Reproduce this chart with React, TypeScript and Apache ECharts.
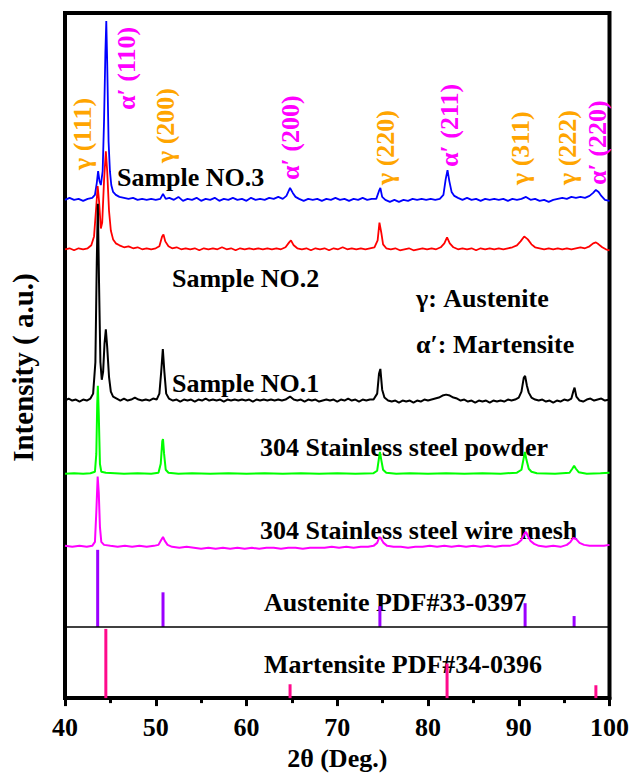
import React, { useEffect, useRef } from 'react';
import * as echarts from 'echarts';

// 2θ range
const X_MIN = 40;
const X_MAX = 100;
const X_STEP = 10;
// intensity axis (a.u.)
const Y_MIN = 0;
const Y_MAX = 693;

// vertical offsets of stacked patterns (a.u.)
const OFF_NO3 = 503;
const OFF_NO2 = 453;
const OFF_NO1 = 300;
const OFF_POWDER = 227;
const OFF_MESH = 153;
const OFF_AUST = 72;
const OFF_MART = 0;

// [2θ, intensity above own baseline]
const sampleNo3: number[][] = [
  [40, 1], [40.5, 3], [41, 1], [41.5, 2], [42, 0], [42.5, 2], [43, 3], [43.3, 6], [43.5, 18], [43.65, 30], [43.8, 20], [43.95, 16],
  [44.15, 30], [44.3, 80], [44.45, 150], [44.55, 182], [44.65, 140], [44.8, 60], [44.95, 30], [45.1, 16], [45.3, 9], [45.6, 6],
  [46, 4], [46.5, 3], [47, 2], [47.5, 3], [48, 1], [48.5, 2], [49, 1], [49.5, 2], [50, 1], [50.5, 2], [50.8, 7], [51.1, 2],
  [51.5, 3], [52, 1], [52.5, 4], [53, 0], [53.5, 2], [54, 1], [54.5, 3], [55, 0], [55.5, 2], [56, 1], [56.5, 3], [57, 0],
  [57.5, 2], [58, 1], [58.5, 3], [59, 1], [59.5, 2], [60, 0], [60.5, 3], [61, 1], [61.5, 2], [62, 1], [62.5, 3], [63, 2],
  [63.5, 4], [64, 2], [64.4, 5], [64.8, 13], [65.1, 8], [65.4, 4], [65.8, 2], [66.3, 0], [66.8, 2], [67.3, 1], [67.8, 2],
  [68.3, 0], [68.8, 2], [69.3, 1], [69.8, 3], [70.3, 1], [70.8, 2], [71.3, 0], [71.8, 2], [72.3, 1], [72.8, 3], [73.3, 1],
  [73.8, 2], [74.3, 2], [74.6, 10], [74.75, 13], [74.95, 4], [75.3, 1], [75.8, -1], [76.3, 1], [76.8, -1], [77.3, 1], [77.8, 0],
  [78.3, 2], [78.8, 1], [79.3, 2], [79.8, 1], [80.3, 2], [80.8, 1], [81.3, 2], [81.7, 6], [81.95, 22], [82.15, 31], [82.35, 20],
  [82.6, 9], [82.9, 5], [83.3, 3], [83.8, 1], [84.3, 3], [84.8, 1], [85.3, 2], [85.8, 0], [86.3, 2], [86.8, 1], [87.3, 2],
  [87.8, 1], [88.3, 2], [88.8, 0], [89.3, 2], [89.8, 1], [90.3, 2], [90.8, 4], [91.3, 1], [91.8, 2], [92.3, 0], [92.8, 1],
  [93.3, -1], [93.8, 1], [94.3, 2], [94.8, 3], [95.3, 2], [95.8, 4], [96.3, 3], [96.8, 4], [97.3, 3], [97.8, 5], [98.2, 8],
  [98.5, 11], [98.8, 9], [99.1, 5], [99.5, 1], [100, 0],
];

const sampleNo2: number[][] = [
  [40, 1], [40.5, 2], [41, 0], [41.5, 2], [42, 1], [42.5, 2], [42.9, 5], [43.2, 14], [43.45, 45], [43.6, 65], [43.75, 50],
  [43.95, 22], [44.1, 28], [44.3, 70], [44.5, 100], [44.65, 80], [44.85, 40], [45.05, 20], [45.3, 11], [45.6, 7], [46, 5],
  [46.5, 3], [47, 4], [47.5, 2], [48, 3], [48.5, 1], [49, 2], [49.5, 1], [50, 2], [50.4, 4], [50.7, 14], [50.85, 16], [51.05, 9],
  [51.4, 4], [51.8, 2], [52.3, 3], [52.8, 1], [53.3, 2], [53.8, 1], [54.3, 2], [54.8, 0], [55.3, 2], [55.8, 1], [56.3, 2],
  [56.8, 1], [57.3, 3], [57.8, 1], [58.3, 2], [58.8, 0], [59.3, 2], [59.8, 1], [60.3, 2], [60.8, 1], [61.3, 2], [61.8, 1],
  [62.3, 2], [62.8, 1], [63.3, 2], [63.8, 1], [64.3, 3], [64.7, 8], [64.9, 10], [65.2, 5], [65.6, 2], [66.1, 1], [66.6, 2],
  [67.1, 0], [67.6, 2], [68.1, 1], [68.6, 2], [69.1, 0], [69.6, 2], [70.1, 1], [70.6, 3], [71.1, 1], [71.6, 2], [72.1, 1],
  [72.6, 2], [73.1, 1], [73.6, 2], [74.1, 3], [74.45, 10], [74.65, 28], [74.85, 18], [75.05, 6], [75.4, 2], [75.9, 1], [76.4, 2],
  [76.9, 0], [77.4, 1], [77.9, 2], [78.4, 0], [78.9, 1], [79.4, 2], [79.9, 1], [80.4, 2], [80.9, 1], [81.4, 3], [81.8, 7],
  [82.1, 13], [82.4, 7], [82.8, 3], [83.3, 1], [83.8, 2], [84.3, 1], [84.8, 2], [85.3, 0], [85.8, 2], [86.3, 1], [86.8, 2],
  [87.3, 1], [87.8, 2], [88.3, 1], [88.8, 2], [89.3, 3], [89.8, 5], [90.2, 9], [90.6, 14], [91, 11], [91.4, 6], [91.8, 3],
  [92.3, 2], [92.8, 1], [93.3, 2], [93.8, 1], [94.3, 2], [94.8, 1], [95.3, 2], [95.8, 1], [96.3, 2], [96.8, 3], [97.3, 2],
  [97.8, 4], [98.2, 7], [98.5, 8], [98.8, 6], [99.2, 3], [99.6, 1], [100, 0],
];

const sampleNo1: number[][] = [
  [40, 1], [40.4, 3], [40.8, 1], [41.2, 2], [41.6, 0], [42, 2], [42.4, 1], [42.8, 3], [43.1, 8], [43.35, 40], [43.5, 140],
  [43.62, 200], [43.75, 120], [43.9, 40], [44.05, 22], [44.2, 30], [44.35, 58], [44.5, 73], [44.65, 55], [44.85, 25], [45.05, 10],
  [45.3, 5], [45.7, 3], [46.1, 1], [46.5, 3], [46.9, 1], [47.3, 2], [47.7, 4], [48.1, 2], [48.5, 1], [48.9, 2], [49.3, 1],
  [49.7, 3], [50.1, 2], [50.4, 8], [50.6, 30], [50.78, 53], [50.95, 30], [51.15, 8], [51.45, 3], [51.9, 1], [52.3, 2], [52.7, 0],
  [53.1, 2], [53.5, 1], [53.9, 2], [54.3, 0], [54.7, 2], [55.1, 1], [55.5, 3], [55.9, 1], [56.3, 2], [56.7, 1], [57.1, 2],
  [57.5, 0], [57.9, 2], [58.3, 1], [58.7, 2], [59.1, 1], [59.5, 2], [59.9, 1], [60.3, 2], [60.7, 0], [61.1, 2], [61.5, 1],
  [61.9, 2], [62.3, 1], [62.7, 2], [63.1, 1], [63.5, 2], [63.9, 1], [64.3, 2], [64.8, 5], [65.2, 2], [65.6, 1], [66, 2],
  [66.4, 0], [66.8, 2], [67.2, 1], [67.6, 2], [68, 0], [68.4, 1], [68.8, 2], [69.2, 1], [69.6, 2], [70, 0], [70.4, 2],
  [70.8, 1], [71.2, 3], [71.6, 1], [72, 2], [72.4, 0], [72.8, 2], [73.2, 1], [73.6, 2], [74, 2], [74.4, 8], [74.6, 28],
  [74.75, 33], [74.95, 12], [75.2, 4], [75.6, 1], [76, 0], [76.4, 1], [76.8, -1], [77.2, 1], [77.6, 0], [78, 1], [78.4, -1],
  [78.8, 1], [79.2, 0], [79.6, 2], [80, 1], [80.4, 2], [80.8, 3], [81.2, 4], [81.6, 6], [82, 7], [82.4, 6], [82.8, 4],
  [83.2, 3], [83.6, 1], [84, 2], [84.4, 0], [84.8, 1], [85.2, -1], [85.6, 1], [86, 0], [86.4, 1], [86.8, -1], [87.2, 1],
  [87.6, 0], [88, 1], [88.4, 0], [88.8, 2], [89.2, 1], [89.6, 2], [90, 4], [90.3, 10], [90.55, 24], [90.7, 26], [90.9, 16],
  [91.1, 9], [91.4, 4], [91.8, 2], [92.2, 1], [92.6, 2], [93, 0], [93.4, 1], [93.8, -1], [94.2, 1], [94.6, 0], [95, 2],
  [95.4, 1], [95.8, 3], [96, 10], [96.15, 14], [96.35, 5], [96.7, 1], [97.1, 0], [97.5, 2], [97.9, 3], [98.3, 1], [98.7, 2],
  [99.1, 3], [99.5, 1], [100, 2],
];

const steelPowder: number[][] = [
  [40, 0], [41, 0.5], [42, 0], [42.8, 0.5], [43.3, 2], [43.45, 20], [43.55, 70], [43.62, 89], [43.72, 60], [43.85, 10], [44, 2],
  [44.5, 1], [45.5, 0.5], [46.5, 0], [48, 0.5], [49.5, 0], [50.3, 1], [50.55, 10], [50.72, 33], [50.8, 35], [50.92, 20],
  [51.1, 4], [51.4, 1], [52.5, 0], [54, 0.5], [56, 0], [58, 0.5], [60, 0], [62, 0.5], [64, 0], [66, 0.5], [68, 0], [70, 0.5],
  [72, 0], [74, 0.5], [74.4, 3], [74.6, 16], [74.7, 22], [74.85, 14], [75.05, 4], [75.4, 1], [76.5, 0], [78, 0.5], [80, 0],
  [82, 0.5], [84, 0], [86, 0.5], [88, 0], [89.8, 1], [90.3, 4], [90.55, 16], [90.68, 22], [90.85, 14], [91.1, 5], [91.4, 2],
  [92, 0.5], [94, 0], [95.6, 1], [95.9, 5], [96.1, 8], [96.3, 5], [96.6, 1.5], [97.5, 0], [99, 0.5], [100, 1],
];

const steelMesh: number[][] = [
  [40, 1], [40.8, 0], [41.6, 1], [42.4, 0], [43, 1], [43.3, 5], [43.45, 35], [43.6, 71], [43.72, 55], [43.85, 20], [44, 5],
  [44.3, 2], [45, 1], [45.8, 0], [46.6, 1], [47.4, 0], [48.2, 1], [49, 0], [49.8, 1], [50.3, 2], [50.6, 7], [50.8, 10], [51, 6],
  [51.3, 2], [51.8, 0], [52.6, -1], [53.4, 0], [54.2, -1], [55, -2], [55.8, -1], [56.6, -2], [57.4, -1], [58.2, -2], [59, -1],
  [59.8, -2], [60.6, -1], [61.4, -2], [62.2, -1], [63, -1], [63.8, -2], [64.6, -1], [65.4, -1], [66.2, -2], [67, -1], [67.8, -1],
  [68.6, -1], [69.4, 0], [70.2, -1], [71, 0], [71.8, -1], [72.6, 0], [73.4, 0], [74, 1], [74.4, 4], [74.65, 10], [74.85, 8],
  [75.1, 4], [75.5, 1], [76.2, 0], [77, 0], [77.8, -1], [78.6, 0], [79.4, 0], [80.2, 1], [81, 0], [81.8, 1], [82.6, 0],
  [83.4, 1], [84.2, 0], [85, 1], [85.8, 0], [86.6, 1], [87.4, 0], [88.2, 1], [89, 1], [89.8, 3], [90.3, 7], [90.6, 13],
  [90.8, 15], [91, 11], [91.3, 6], [91.7, 3], [92.2, 1], [93, 0], [93.8, 1], [94.6, 0], [95.3, 2], [95.7, 5], [96, 9], [96.3, 8],
  [96.7, 4], [97.2, 2], [97.8, 1], [98.6, 1], [99.4, 1], [100, 2],
];

// standard cards
const austenitePos = [43.6, 50.8, 74.7, 90.7, 96.1];
const austeniteInt = [78, 35, 21, 24, 11];
const martensitePos = [44.5, 64.8, 82.1, 98.5];
const martensiteInt = [70, 14, 35, 13];

// peak annotations: [label, phase]
const peakLabels = ['γ (111)', 'α′ (110)', 'γ (200)', 'α′ (200)', 'γ (220)', 'α′ (211)', 'γ (311)', 'γ (222)', 'α′ (220)'];
const peakPhase = ['g', 'a', 'g', 'a', 'g', 'a', 'g', 'g', 'a'];

const FONT = '"Liberation Serif", "Times New Roman", serif';

export default function App() {
  const ref = useRef<HTMLDivElement>(null);
  useEffect(() => {
    document.body.style.margin = '0';
    const chart = echarts.init(ref.current!, null, { renderer: 'svg' });

    const shift = (arr: number[][], off: number) => arr.map((p) => [p[0], p[1] + off]);
    const lineSeries = (name: string, arr: number[][], off: number, color: string, width: number, extra: any = {}) => ({
      name,
      type: 'line',
      data: shift(arr, off),
      showSymbol: false,
      symbol: 'none',
      lineStyle: { color, width },
      silent: true,
      ...extra,
    });
    const stickSeries = (name: string, pos: number[], ints: number[], off: number, color: string) => ({
      name,
      type: 'custom',
      silent: true,
      data: pos.map((x, i) => [x, ints[i]]),
      renderItem: (_params: any, api: any) => {
        const x = api.value(0);
        const h = api.value(1);
        const p0 = api.coord([x, off]);
        const p1 = api.coord([x, off + h]);
        return {
          type: 'line',
          shape: { x1: p0[0], y1: p0[1], x2: p1[0], y2: p1[1] },
          style: { stroke: color, lineWidth: 3 },
        };
      },
    });

    const textStyle = (text: string, color = '#000') => ({
      text,
      fill: color,
      font: `bold 26px ${FONT}`,
      textAlign: 'left',
      textVerticalAlign: 'middle',
      verticalAlign: 'middle',
    });

    // annotation placements (pixels)
    const plain: [string, number, number][] = [
      ['Sample NO.3', 117, 177],
      ['Sample NO.2', 172, 278],
      ['Sample NO.1', 172, 383],
      ['γ: Austenite', 416, 298],
      ['α′: Martensite', 416, 344],
      ['304 Stainless steel powder', 260, 447],
      ['304 Stainless steel wire mesh', 260, 530],
      ['Austenite PDF#33-0397', 264, 602],
      ['Martensite PDF#34-0396', 264, 664],
    ];
    const peakXY: [number, number][] = [
      [82, 170], [126, 110], [165, 163], [290, 180], [385, 185], [449, 167], [520, 185], [567, 185], [597, 185],
    ];

    const graphic: any[] = [];
    plain.forEach(([t, x, y]) => graphic.push({ type: 'text', x, y, silent: true, style: textStyle(t) }));
    peakLabels.forEach((t, i) =>
      graphic.push({
        type: 'text',
        x: peakXY[i][0],
        y: peakXY[i][1],
        rotation: Math.PI / 2,
        silent: true,
        style: textStyle(t, peakPhase[i] === 'g' ? '#FFA500' : '#FF00FF'),
      })
    );

    chart.setOption({
      animation: false,
      backgroundColor: '#fff',
      grid: { left: 62, right: 21, top: 13, bottom: 70, show: true, borderColor: '#000', borderWidth: 4, containLabel: false },
      xAxis: {
        type: 'value',
        min: X_MIN,
        max: X_MAX,
        interval: X_STEP,
        name: '2θ (Deg.)',
        nameLocation: 'middle',
        nameGap: 44,
        nameTextStyle: { color: '#000', fontSize: 26, fontWeight: 'bold', fontFamily: FONT },
        axisLine: { show: true, lineStyle: { color: '#000', width: 4 } },
        axisTick: { show: true, inside: false, length: 8, lineStyle: { color: '#000', width: 3 } },
        minorTick: { show: true, splitNumber: 2, length: 5, lineStyle: { color: '#000', width: 3 } },
        axisLabel: { color: '#000', fontSize: 26, fontWeight: 'bold', fontFamily: FONT, margin: 16 },
        splitLine: { show: false },
      },
      yAxis: {
        type: 'value',
        min: Y_MIN,
        max: Y_MAX,
        name: 'Intensity ( a.u.)',
        nameLocation: 'middle',
        nameGap: 28,
        nameTextStyle: { color: '#000', fontSize: 29, fontWeight: 'bold', fontFamily: FONT, padding: [0, 24, 0, 0] },
        axisLine: { show: true, lineStyle: { color: '#000', width: 4 } },
        axisTick: { show: false },
        axisLabel: { show: false },
        splitLine: { show: false },
      },
      graphic,
      series: [
        lineSeries('Sample NO.3', sampleNo3, OFF_NO3, '#0000FF', 1.8),
        lineSeries('Sample NO.2', sampleNo2, OFF_NO2, '#FF0000', 1.8),
        lineSeries('Sample NO.1', sampleNo1, OFF_NO1, '#000000', 2),
        lineSeries('304 Stainless steel powder', steelPowder, OFF_POWDER, '#00FF00', 2),
        lineSeries('304 Stainless steel wire mesh', steelMesh, OFF_MESH, '#FF00FF', 2, {
          markLine: {
            silent: true,
            symbol: 'none',
            label: { show: false },
            lineStyle: { color: '#000', width: 1.5, type: 'solid' },
            data: [{ yAxis: OFF_AUST }],
          },
        }),
        stickSeries('Austenite PDF#33-0397', austenitePos, austeniteInt, OFF_AUST, '#9B00FF'),
        stickSeries('Martensite PDF#34-0396', martensitePos, martensiteInt, OFF_MART, '#FF0A8C'),
      ],
    });
    return () => chart.dispose();
  }, []);
  return <div ref={ref} style={{ width: 632, height: 776 }} />;
}
